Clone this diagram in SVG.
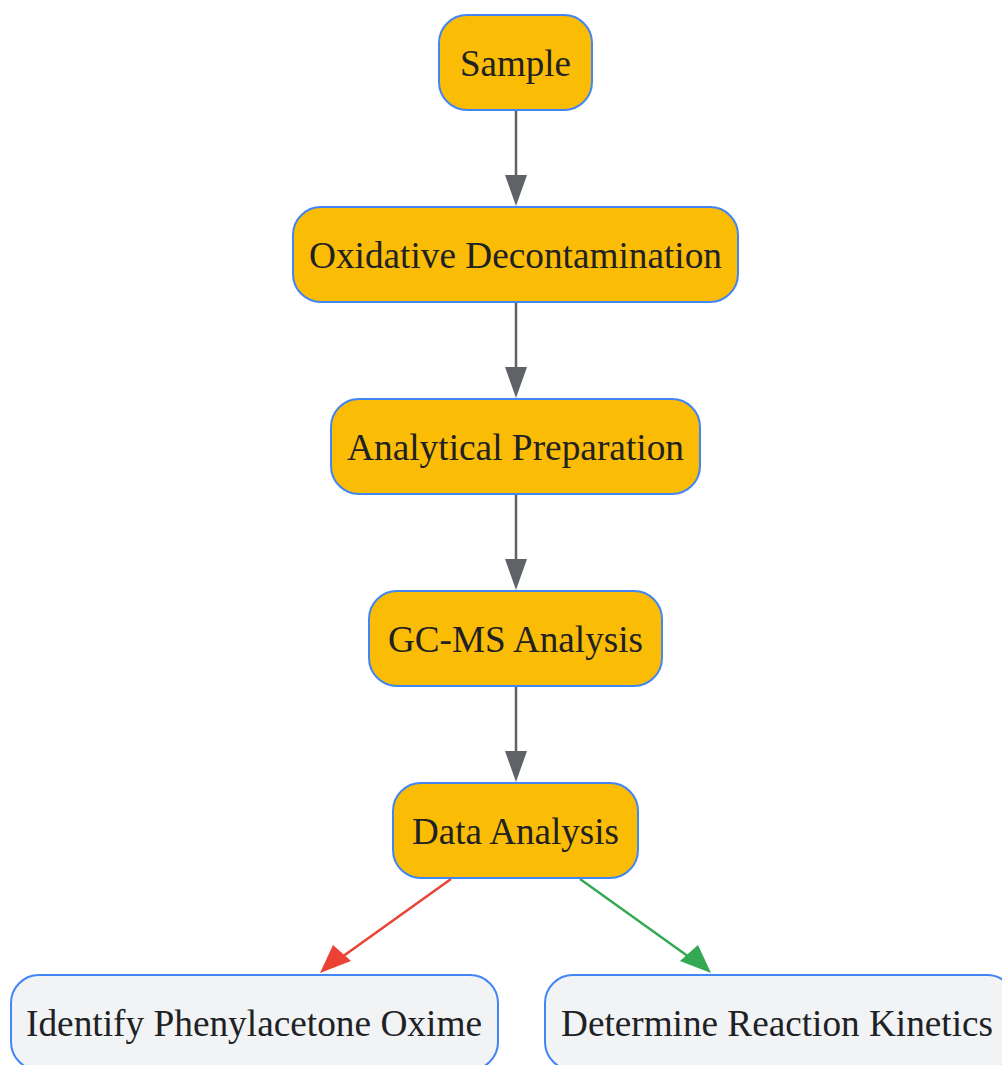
<svg xmlns="http://www.w3.org/2000/svg" width="1002" height="1065" viewBox="0 0 1002 1065">
<style>
.n rect{fill:#FBBC05;stroke:#4285F4;stroke-width:2}
.o rect{fill:#F1F3F4;stroke:#4285F4;stroke-width:2}
text{font-family:"Liberation Serif",serif;font-size:38px;fill:#202124;text-anchor:middle}
.e{fill:none;stroke-width:2.5}
</style>
<g id="connectors">
<path class="e" stroke="#5F6368" d="M516,110V175"/><path d="M505,175L527,175L516,206z" fill="#5F6368"/>
<path class="e" stroke="#5F6368" d="M516,302V367"/><path d="M505,367L527,367L516,398z" fill="#5F6368"/>
<path class="e" stroke="#5F6368" d="M516,494V559"/><path d="M505,559L527,559L516,590z" fill="#5F6368"/>
<path class="e" stroke="#5F6368" d="M516,686V751"/><path d="M505,751L527,751L516,782z" fill="#5F6368"/>
<path class="e" stroke="#EA4335" d="M451,879L342,957"/><path d="M333,945L351,961L320,973z" fill="#EA4335"/>
<path class="e" stroke="#34A853" d="M580,879L689,957"/><path d="M698,945L680,961L711,973z" fill="#34A853"/>
</g>
<g id="sample" class="n"><rect x="439" y="15" width="153" height="95" rx="28"/><text x="515.5" y="76" textLength="111" lengthAdjust="spacingAndGlyphs">Sample</text></g>
<g id="oxidative" class="n"><rect x="293" y="207" width="445" height="95" rx="28"/><text x="515.5" y="268" textLength="413" lengthAdjust="spacingAndGlyphs">Oxidative Decontamination</text></g>
<g id="analytical" class="n"><rect x="331" y="399" width="369" height="95" rx="28"/><text x="515.5" y="460" textLength="337" lengthAdjust="spacingAndGlyphs">Analytical Preparation</text></g>
<g id="gcms" class="n"><rect x="369" y="591" width="293" height="95" rx="28"/><text x="515.5" y="652" textLength="255" lengthAdjust="spacingAndGlyphs">GC-MS Analysis</text></g>
<g id="data" class="n"><rect x="393" y="783" width="245" height="95" rx="28"/><text x="515.5" y="844" textLength="207" lengthAdjust="spacingAndGlyphs">Data Analysis</text></g>
<g id="identify" class="o"><rect x="11" y="975" width="487" height="95" rx="28"/><text x="254" y="1036" textLength="456" lengthAdjust="spacingAndGlyphs">Identify Phenylacetone Oxime</text></g>
<g id="determine" class="o"><rect x="545" y="975" width="470" height="95" rx="28"/><text x="777" y="1036" textLength="432" lengthAdjust="spacingAndGlyphs">Determine Reaction Kinetics</text></g>
</svg>
